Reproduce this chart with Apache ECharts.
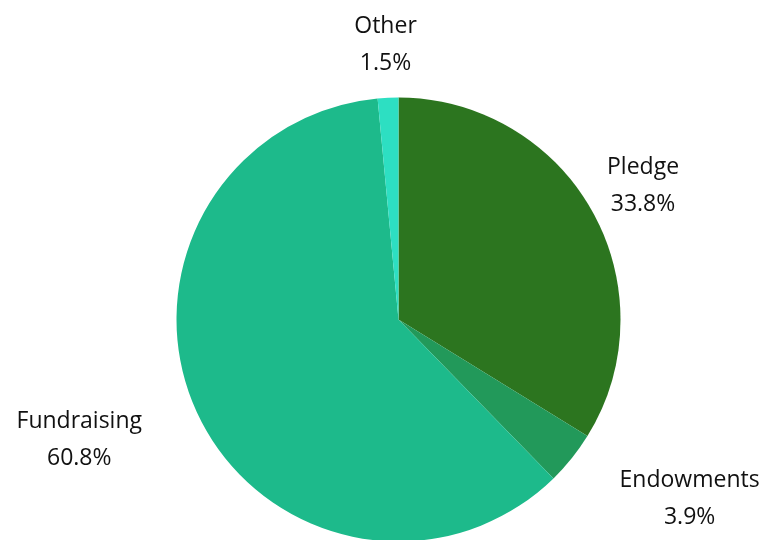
<!DOCTYPE html>
<html>
<head>
<meta charset="utf-8">
<script src="https://cdn.jsdelivr.net/npm/echarts@6/dist/echarts.min.js"></script>
<style>html,body{margin:0;padding:0;background:#fff}#c{width:767px;height:540px}</style>
</head>
<body>
<div id="c"></div>
<script>
const categories = ['Pledge', 'Endowments', 'Fundraising', 'Other'];
const values = [33.8, 3.9, 60.8, 1.5];
const colors = ['#2c751f', '#22995a', '#1dba8b', '#2ddfc2'];

const CX = 398.5, CY = 319.5, R = 222;
const total = values.reduce((a, b) => a + b, 0);

const chart = echarts.init(document.getElementById('c'), null, {renderer: 'canvas'});
chart.setOption({
  animation: false,
  series: [{
    type: 'pie',
    center: [CX, CY],
    radius: R,
    startAngle: 90,
    clockwise: true,
    avoidLabelOverlap: false,
    data: categories.map((n, i) => ({name: n, value: values[i], itemStyle: {color: colors[i]}})),
    itemStyle: {borderWidth: 0},
    label: {
      show: true,
      position: 'outside',
      formatter: p => p.name + '\n' + p.value.toFixed(1) + '%',
      fontFamily: '"Open Sans"',
      fontWeight: 400,
      fontSize: 23,
      lineHeight: 37,
      color: '#111',
      align: 'center'
    },
    labelLine: {show: false},
    emphasis: {disabled: true},
    labelLayout: function (params) {
      const idx = params.dataIndex;
      let acc = 0;
      for (let i = 0; i < idx; i++) acc += values[i];
      const mid = (acc + values[idx] / 2) / total * Math.PI * 2;
      const dx = Math.sin(mid), dy = -Math.cos(mid);
      const px = CX + R * dx, py = CY + R * dy;
      const hw = params.labelRect.width / 2, hh = params.labelRect.height / 2 - 6;
      const G = 22;
      const down = Math.max(0, dy);
      return {
        x: px + dx * (hw + G) + Math.sign(dx) * Math.pow(down, 0.3) * 53,
        y: py + dy * (hh + G) + down * 12,
        align: 'center',
        verticalAlign: 'middle'
      };
    }
  }]
});
</script>
</body>
</html>
